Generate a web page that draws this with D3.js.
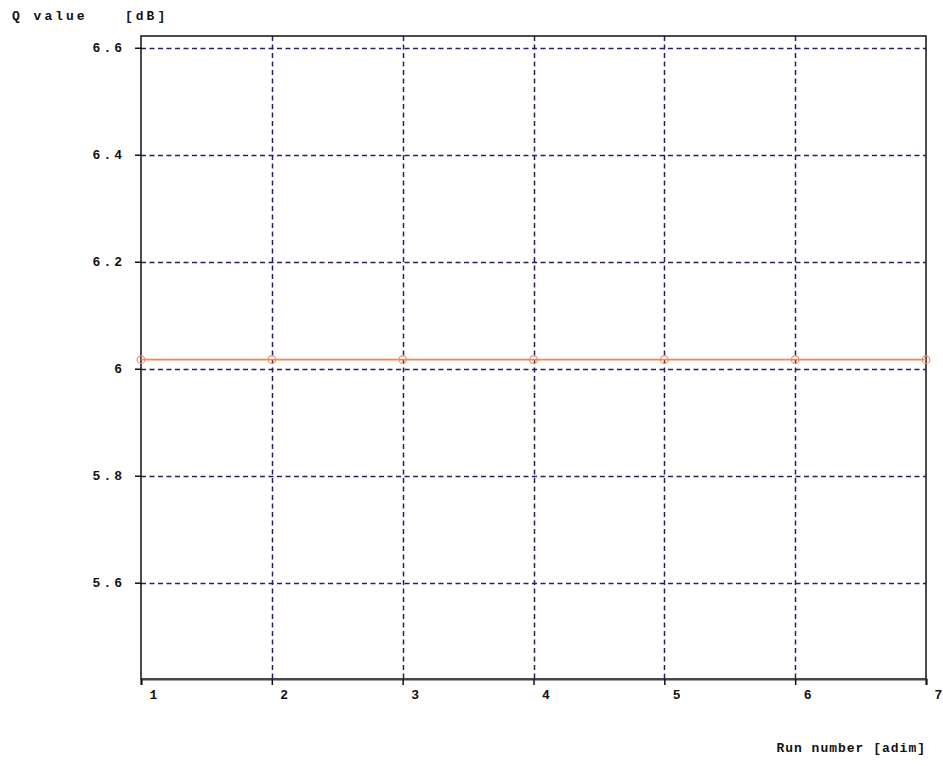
<!DOCTYPE html>
<html>
<head>
<meta charset="utf-8">
<script src="https://cdn.jsdelivr.net/npm/d3@7"></script>
<style>
  html, body { margin: 0; padding: 0; background: #fff; }
  svg { display: block; }
  text { font-family: "Liberation Mono", "DejaVu Sans Mono", monospace; font-size: 13px; fill: #111; font-weight: bold; letter-spacing: 3px; }
</style>
</head>
<body>
<svg id="chart" width="943" height="766"></svg>
<script>
// Run index and measured Q value per run
const runs = [1, 2, 3, 4, 5, 6, 7];
const qValues = [6.017, 6.017, 6.017, 6.017, 6.017, 6.017, 6.017];
const yTicks = [5.6, 5.8, 6.0, 6.2, 6.4, 6.6];
const yTickLabels = ["5.6", "5.8", "6", "6.2", "6.4", "6.6"];
const xTicks = [1, 2, 3, 4, 5, 6, 7];
const yTitleName = "Q value";
const yTitleUnit = "[dB]";
const xTitle = "Run number [adim]";

const svg = d3.select("#chart");
const plotLeft = 141, plotRight = 926, plotTop = 36, plotBottom = 679;

const x = d3.scaleLinear().domain([1, 7]).range([plotLeft, plotRight]);
const y = d3.scaleLinear().domain([5.42, 6.622]).range([plotBottom, plotTop]);

const gridColor = "#20206c";

// dashed grid
svg.append("g").selectAll("line").data(yTicks).join("line")
  .attr("x1", plotLeft).attr("x2", plotRight)
  .attr("y1", d => Math.round(y(d)) + 0.5).attr("y2", d => Math.round(y(d)) + 0.5)
  .attr("stroke", gridColor).attr("stroke-width", 1.5).attr("stroke-dasharray", "5,3.5");

svg.append("g").selectAll("line").data(xTicks.slice(1, -1)).join("line")
  .attr("x1", d => Math.round(x(d)) + 0.5).attr("x2", d => Math.round(x(d)) + 0.5)
  .attr("y1", plotTop).attr("y2", plotBottom)
  .attr("stroke", gridColor).attr("stroke-width", 1.5).attr("stroke-dasharray", "5,3.5");

// frame
svg.append("rect").attr("x", plotLeft).attr("y", plotTop)
  .attr("width", plotRight - plotLeft).attr("height", plotBottom - plotTop)
  .attr("fill", "none").attr("stroke", "#111").attr("stroke-width", 1.5);

// y axis ticks and labels
const yAxis = d3.axisLeft(y).tickValues(yTicks).tickSize(6).tickPadding(10)
  .tickFormat((d, i) => yTickLabels[i]);
const gy = svg.append("g").attr("transform", `translate(${plotLeft},0)`).call(yAxis);
gy.attr("font-family", null).attr("font-size", null);
gy.select(".domain").remove();
gy.selectAll(".tick line").attr("stroke", "#111").attr("stroke-width", 1.5);
gy.selectAll(".tick text").attr("fill", "#111");

// x axis ticks and labels
const xAxis = d3.axisBottom(x).tickValues(xTicks).tickSize(6).tickFormat(d3.format("d"));
const gx = svg.append("g").attr("transform", `translate(0,${plotBottom})`).call(xAxis);
gx.attr("font-family", null).attr("font-size", null);
gx.select(".domain").attr("stroke", "#444").attr("stroke-width", 2.2);
gx.selectAll(".tick line").attr("stroke", "#111").attr("stroke-width", 1.5);
gx.selectAll(".tick text").attr("fill", "#111").style("letter-spacing", "0px")
  .attr("text-anchor", "start").attr("dx", 8).attr("y", 11);

// data line
const line = d3.line().x((d, i) => x(runs[i])).y(d => y(d));
svg.append("path").datum(qValues).attr("d", line)
  .attr("fill", "none").attr("stroke", "#f08848").attr("stroke-width", 1.6);
svg.append("g").selectAll("circle").data(qValues).join("circle")
  .attr("cx", (d, i) => x(runs[i])).attr("cy", d => y(d)).attr("r", 3.8)
  .attr("fill", "none").attr("stroke", "#e8906c").attr("stroke-width", 1.2);

// titles
svg.append("text").attr("x", 12).attr("y", 20).text(yTitleName);
svg.append("text").attr("x", 125).attr("y", 20).text(yTitleUnit);
svg.append("text").attr("x", 926).attr("y", 752).attr("text-anchor", "end")
  .style("letter-spacing", "1px").text(xTitle);
</script>
</body>
</html>
